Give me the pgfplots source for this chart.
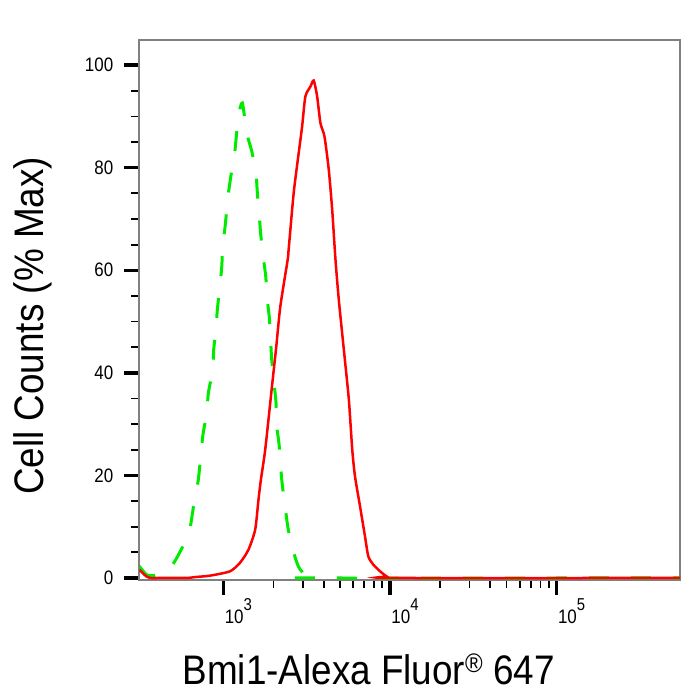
\documentclass[border=0pt]{standalone}
\usepackage{fontspec}
\setmainfont{Liberation Sans}
\usepackage{pgfplots}
\pgfplotsset{compat=1.18}
\usepackage{graphicx}

\definecolor{flowred}{RGB}{255,0,0}
\definecolor{flowgreen}{RGB}{0,235,0}
\definecolor{framegray}{RGB}{128,128,128}

% x tick label: 10 with raised exponent
\newcommand{\decade}[1]{\scalebox{1}[1.15]{\fontsize{17}{17}\selectfont 10\raisebox{12bp}{\fontsize{15}{15}\selectfont #1}}}
% y tick label
\newcommand{\yl}[1]{\scalebox{1}[1.15]{\fontsize{17}{18}\selectfont #1}}

\begin{document}
\begin{tikzpicture}
\path[use as bounding box] (0,0) rectangle (695bp,695bp);
\begin{axis}[
at={(139.3bp,115bp)}, anchor=south west,
scale only axis,
width=540.7bp, height=540bp,
xmode=log,
xmin=313, xmax=5.5e5,
ymin=-0.4, ymax=104.9,
axis line style={framegray, line width=2bp},
tick align=outside,
xtick pos=lower, ytick pos=left,
xtick={1000,10000,100000},
xticklabels={\decade{3},\decade{4},\decade{5}},
ytick={0,20,40,60,80,100},
yticklabels={\yl{0},\yl{20},\yl{40},\yl{60},\yl{80},\yl{100}},
minor ytick={5,10,15,25,30,35,45,50,55,65,70,75,85,90,95,105},
major tick length=15bp,
minor tick length=8bp,
major tick style={line width=3.5bp, black},
minor tick style={line width=1.8bp, black},
yticklabel style={anchor=east, inner sep=0pt, xshift=-11bp},
xticklabel style={anchor=north, inner sep=0pt, xshift=15bp, yshift=-3bp},
xlabel={\scalebox{1}[1.12]{Bmi1-Alexa Fluor{\fontsize{24}{24}\selectfont\raisebox{11.5bp}{®}} 647}},
ylabel={\scalebox{1}[1.12]{Cell Counts (\% Max)}},
label style={font=\fontsize{37}{40}\selectfont},
xlabel style={at={(axis description cs:0.424,-0.1944)}, anchor=base},
ylabel style={at={(axis description cs:-0.1781,0.4704)}, anchor=base},
]

% isotype control
\addplot[flowgreen, line width=3bp, dash pattern=on 20bp off 22bp, smooth, tension=0.4] coordinates {
(313,2.3) (347,0.6) (389,0.5) (437,1.6) (479,1.95) (525,3.9) (617,8.4)
(646,11.7) (676,15.9) (708,19.2) (752,27.6) (795,32.2) (813,36.1) (864,40.6)
(875,44.5) (904,48.7) (920,52.3) (955,57.2) (978,60.7) (992,65.0) (1024,68.5)
(1072,75.0) (1148,81.5) (1175,83.5) (1230,90.0) (1300,92.6) (1382,86.7)
(1481,83.2) (1571,78.6) (1600,75.0) (1644,70.5) (1677,66.9) (1738,62.4)
(1796,58.8) (1836,54.2) (1888,50.7) (1925,45.8) (1950,42.6) (2015,38.0)
(2070,34.1) (2090,29.6) (2160,26.0) (2240,19.2) (2344,14.0) (2453,9.4)
(2627,5.2) (2813,2.3) (2950,1.3) (3133,0.3) (3400,0) (550000,0)
};

% Bmi1 stained
\addplot[flowred, line width=2.5bp, smooth, tension=0.4] coordinates {
(313,1.6) (345,0.3) (362,0) (435,0) (600,0) (692,0.2) (832,0.45) (1097,1.3)
(1261,3.0) (1414,5.5) (1552,9.4) (1625,15.3) (1680,19.2) (1783,25.0)
(1957,37.3) (2077,45.1) (2196,52.9) (2430,62.0) (2464,64.0) (2641,75.0)
(2830,82.8) (2968,88.0) (3106,93.9) (3330,95.8) (3485,97.0) (3654,93.9)
(3824,88.7) (4043,86.1) (4291,79.6) (4498,71.8) (4709,62.0) (4930,54.2)
(5284,44.5) (5662,34.8) (5936,25.0) (6166,19.8) (6607,14.0) (7079,8.1)
(7413,4.2) (7943,2.6) (8710,1.3) (9550,0.3) (10233,0) (550000,0)
};

\end{axis}
\end{tikzpicture}
\end{document}
